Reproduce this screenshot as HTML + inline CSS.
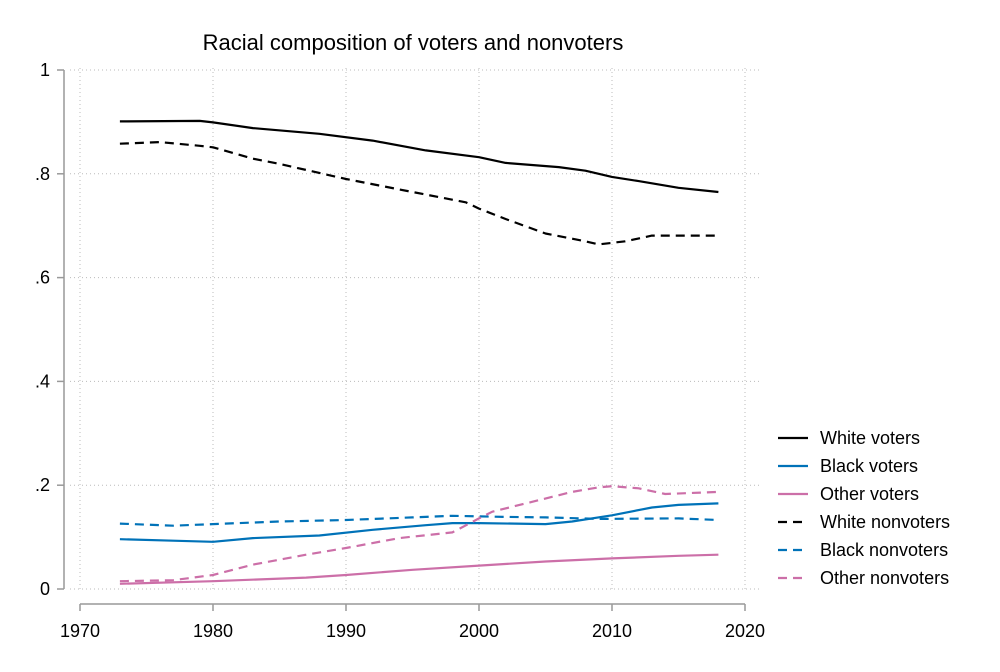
<!DOCTYPE html>
<html><head><meta charset="utf-8"><style>
body{margin:0;background:#fff;font-family:"Liberation Sans",Arial,sans-serif}
svg text{font-family:"Liberation Sans",Arial,sans-serif}
</style></head><body>
<svg id="c" width="1000" height="667">
<rect width="1000" height="667" fill="#fff"/>
<text x="413" y="50" font-size="22" text-anchor="middle">Racial composition of voters and nonvoters</text>
<g id="grid"></g><g id="axes"></g><g id="series"></g><g id="legend"></g>
</svg>
<script>
const xTicks=[1970,1980,1990,2000,2010,2020];
const yTicks=[0,0.2,0.4,0.6,0.8,1];
const yTickLabels=["0",".2",".4",".6",".8","1"];
const seriesNames=["White voters","Black voters","Other voters","White nonvoters","Black nonvoters","Other nonvoters"];
const whiteVotersX=[1973,1979,1980,1983,1988,1992,1996,2000,2002,2006,2008,2010,2012,2015,2018];
const whiteVotersY=[.901,.902,.899,.888,.877,.864,.845,.832,.821,.813,.806,.794,.786,.773,.765];
const whiteNonX=[1973,1976,1979,1980,1983,1985,1990,1995,1999,2000,2002,2005,2008,2009,2011,2013,2018];
const whiteNonY=[.858,.861,.854,.851,.829,.819,.79,.765,.745,.733,.713,.685,.67,.664,.67,.681,.681];
const blackVotersX=[1973,1977,1980,1983,1988,1992,1996,1998,2000,2005,2007,2010,2013,2015,2018];
const blackVotersY=[.096,.093,.091,.098,.103,.114,.123,.127,.127,.125,.13,.142,.157,.162,.165];
const otherVotersX=[1973,1980,1987,1990,1995,2000,2005,2010,2015,2018];
const otherVotersY=[.01,.015,.022,.027,.037,.045,.053,.059,.064,.066];
const otherNonX=[1973,1977,1980,1983,1987,1990,1994,1998,2000,2001,2004,2007,2009,2010,2012,2014,2018];
const otherNonY=[.015,.017,.027,.047,.066,.079,.098,.109,.136,.149,.168,.187,.196,.198,.194,.183,.187];
const blackNonX=[1973,1977,1980,1985,1990,1995,1998,2002,2005,2009,2015,2018];
const blackNonY=[.126,.122,.125,.13,.133,.138,.141,.139,.138,.135,.136,.133];

const NS="http://www.w3.org/2000/svg";
const X=v=>80+(v-1970)*(665/50);
const Y=v=>589-v*519;
function mk(tag,attrs,parent){const e=document.createElementNS(NS,tag);for(const k in attrs)e.setAttribute(k,attrs[k]);document.getElementById(parent).appendChild(e);return e;}
xTicks.forEach(t=>{
  const g=mk('line',{x1:X(t),x2:X(t),y1:68,y2:592,stroke:'#bbb','stroke-width':1,'stroke-dasharray':'1 3'},'grid');
  
  
  const tk=mk('line',{x1:X(t),x2:X(t),y1:604,y2:611,stroke:'#999','stroke-width':1.5},'axes');
  
  
  const tx=mk('text',{x:X(t),y:637,'font-size':18,'text-anchor':'middle'},'axes');tx.textContent=t;
  
  
});
yTicks.forEach((t,i)=>{
  const g=mk('line',{x1:70,x2:762,y1:Y(t),y2:Y(t),stroke:'#bbb','stroke-width':1,'stroke-dasharray':'1 3'},'grid');
  
  
  const tk=mk('line',{x1:57,x2:64,y1:Y(t),y2:Y(t),stroke:'#999','stroke-width':1.5},'axes');
  
  
  const tx=mk('text',{x:50,y:Y(t)+6,'font-size':18,'text-anchor':'end'},'axes');tx.textContent=yTickLabels[i];
  
  
});
const ya=mk('line',{x1:64,x2:64,y1:Y(1),y2:Y(0),stroke:'#999','stroke-width':1.5},'axes');


const xa=mk('line',{x1:X(1970),x2:X(2020),y1:604,y2:604,stroke:'#999','stroke-width':1.5},'axes');


const S=[
 [whiteVotersX,whiteVotersY,'#000',''],
 [blackVotersX,blackVotersY,'#0072b8',''],
 [otherVotersX,otherVotersY,'#cc6fa8',''],
 [whiteNonX,whiteNonY,'#000','9 6'],
 [blackNonX,blackNonY,'#0072b8','9 6'],
 [otherNonX,otherNonY,'#cc6fa8','9 6']];
const sNames=['white-voters-line','black-voters-line','other-voters-line','white-nonvoters-line','black-nonvoters-line','other-nonvoters-line'];
S.forEach((s,i)=>{
  const d=s[0].map((x,j)=>(j?'L':'M')+X(x).toFixed(1)+','+Y(s[1][j]).toFixed(1)).join(' ');
  const p=mk('path',{d:d,fill:'none',stroke:s[2],'stroke-width':2.2,'stroke-linejoin':'round','stroke-dasharray':s[3]},'series');
  
  
  const ly=438+i*28;
  const l=mk('line',{x1:778,x2:808,y1:ly,y2:ly,stroke:s[2],'stroke-width':2.2,'stroke-dasharray':s[3]},'legend');
  
  
  const t=mk('text',{x:820,y:ly+6,'font-size':18},'legend');t.textContent=seriesNames[i];
  
  
});
</script>
</body></html>
